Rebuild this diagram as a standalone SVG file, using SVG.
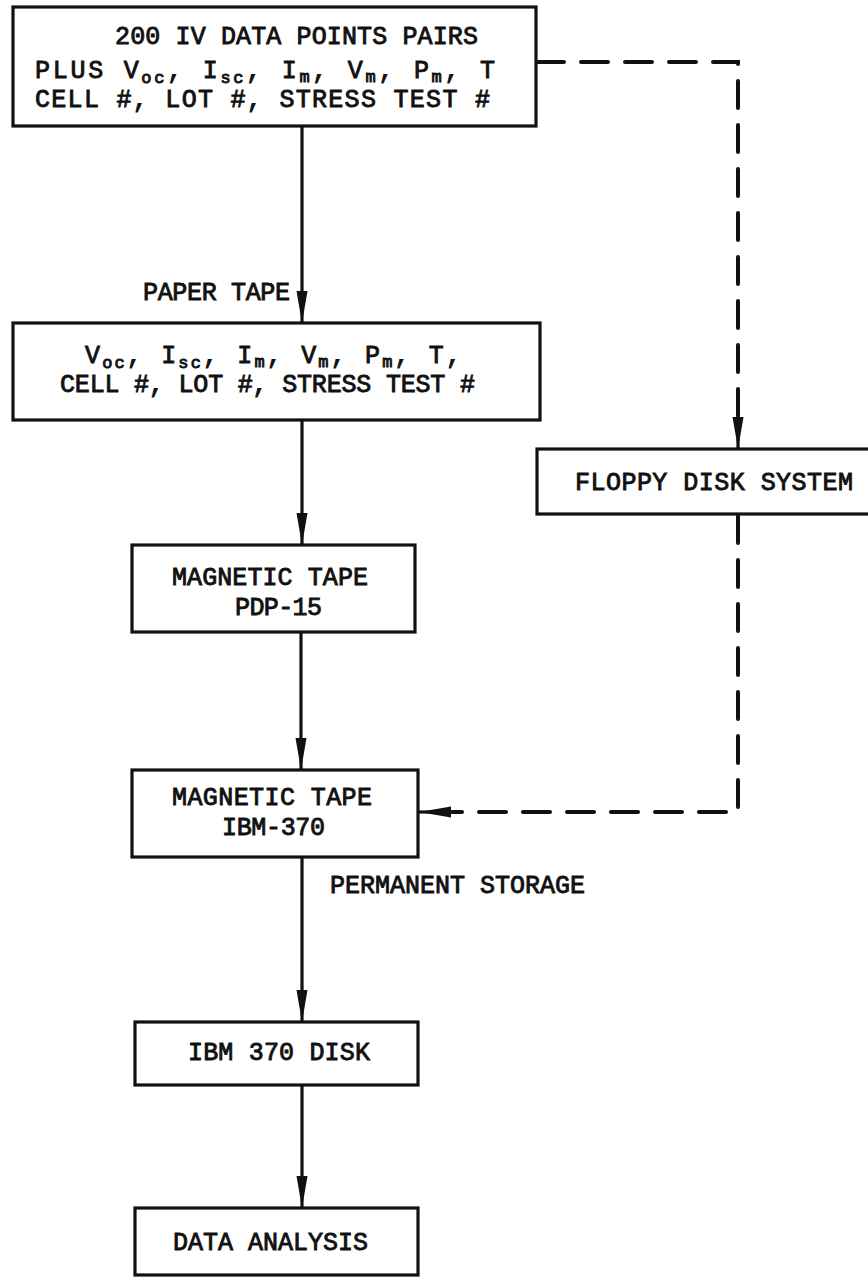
<svg xmlns="http://www.w3.org/2000/svg" width="868" height="1280" viewBox="0 0 868 1280">
<defs>
<style>
.box{fill:#fff;stroke:#111;stroke-width:3.2}
.t{font-family:"Liberation Mono","Courier New",monospace;font-size:25px;font-weight:normal;fill:#111;stroke:#111;stroke-width:0.9}
.s{font-size:17px}
.ln{stroke:#111;stroke-width:3.2;fill:none}
.dash{stroke:#111;stroke-width:4;fill:none;stroke-dasharray:27 17;stroke-linecap:round}
</style>
<marker id="ah" markerUnits="userSpaceOnUse" viewBox="0 0 32 12" refX="32" refY="6" markerWidth="32" markerHeight="12" orient="auto">
<path d="M0,0.5 L32,6 L0,11.5 z" fill="#111"/>
</marker>
</defs>
<rect width="868" height="1280" fill="#fff"/>
<g id="connectors">
<line class="ln" x1="302" y1="126" x2="302" y2="323" marker-end="url(#ah)"/>
<line class="ln" x1="302" y1="420" x2="302" y2="545" marker-end="url(#ah)"/>
<line class="ln" x1="301" y1="632" x2="301" y2="770" marker-end="url(#ah)"/>
<line class="ln" x1="302" y1="857" x2="302" y2="1022" marker-end="url(#ah)"/>
<line class="ln" x1="302" y1="1085" x2="302" y2="1208" marker-end="url(#ah)"/>
<path class="dash" d="M537,62 H738 V416"/>
<line class="ln" x1="738" y1="414" x2="738" y2="449" marker-end="url(#ah)"/>
<path class="dash" d="M738,516 V812 H452"/>
<line class="ln" x1="450" y1="812" x2="419" y2="812" marker-end="url(#ah)"/>
<text class="t" x="143" y="300" textLength="147">PAPER TAPE</text>
<text class="t" x="330" y="893" textLength="255">PERMANENT STORAGE</text>
</g>
<g id="n1">
<rect class="box" x="13" y="7" width="523" height="119"/>
<text class="t" x="115" y="44" textLength="363">200 IV DATA POINTS PAIRS</text>
<text class="t" x="35" y="78" textLength="460">PLUS V<tspan class="s" dy="5">oc</tspan><tspan dy="-5">, I</tspan><tspan class="s" dy="5">sc</tspan><tspan dy="-5">, I</tspan><tspan class="s" dy="4">m</tspan><tspan dy="-4">, V</tspan><tspan class="s" dy="4">m</tspan><tspan dy="-4">, P</tspan><tspan class="s" dy="4">m</tspan><tspan dy="-4">, T</tspan></text>
<text class="t" x="35" y="107" textLength="455">CELL #, LOT #, STRESS TEST #</text>
</g>
<g id="n2">
<rect class="box" x="13" y="323" width="527" height="97"/>
<text class="t" x="85" y="363" textLength="376">V<tspan class="s" dy="5">oc</tspan><tspan dy="-5">, I</tspan><tspan class="s" dy="5">sc</tspan><tspan dy="-5">, I</tspan><tspan class="s" dy="4">m</tspan><tspan dy="-4">, V</tspan><tspan class="s" dy="4">m</tspan><tspan dy="-4">, P</tspan><tspan class="s" dy="4">m</tspan><tspan dy="-4">, T,</tspan></text>
<text class="t" x="60" y="392" textLength="415">CELL #, LOT #, STRESS TEST #</text>
</g>
<g id="n3">
<rect class="box" x="132" y="545" width="283" height="87"/>
<text class="t" x="172" y="585" textLength="196">MAGNETIC TAPE</text>
<text class="t" x="235" y="615" textLength="87">PDP-15</text>
</g>
<g id="n4">
<rect class="box" x="132" y="770" width="286" height="87"/>
<text class="t" x="172" y="805" textLength="200">MAGNETIC TAPE</text>
<text class="t" x="222" y="835" textLength="103">IBM-370</text>
</g>
<g id="n5">
<rect class="box" x="537" y="449" width="340" height="65"/>
<text class="t" x="575" y="490" textLength="278">FLOPPY DISK SYSTEM</text>
</g>
<g id="n6">
<rect class="box" x="135" y="1022" width="283" height="63"/>
<text class="t" x="188" y="1060" textLength="182">IBM 370 DISK</text>
</g>
<g id="n7">
<rect class="box" x="135" y="1208" width="283" height="67"/>
<text class="t" x="173" y="1250" textLength="195">DATA ANALYSIS</text>
</g>
</svg>
